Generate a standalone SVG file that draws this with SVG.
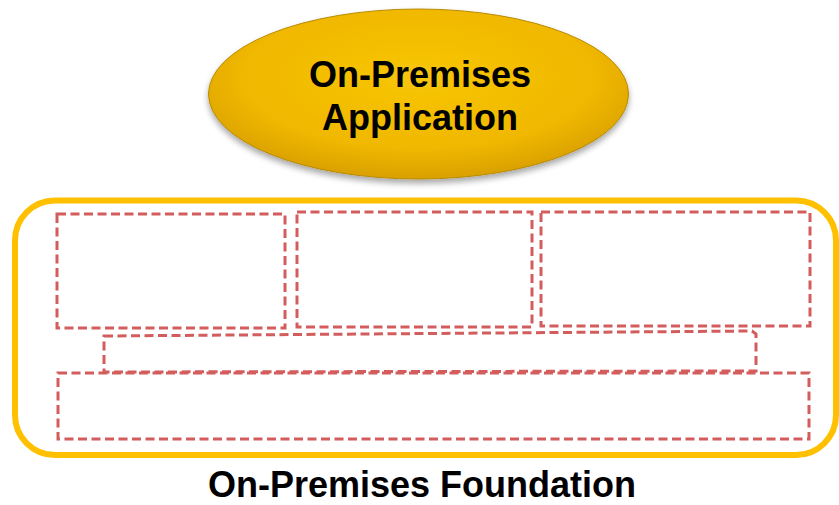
<svg xmlns="http://www.w3.org/2000/svg" width="839" height="505" viewBox="0 0 839 505">
<defs>
<radialGradient id="gold" cx="50%" cy="40%" r="60%">
<stop offset="0" stop-color="#f7c508"/>
<stop offset="0.7" stop-color="#f0b800"/>
<stop offset="1" stop-color="#d9a000"/>
</radialGradient>
<filter id="sh" x="-10%" y="-10%" width="120%" height="130%">
<feGaussianBlur in="SourceAlpha" stdDeviation="3"/>
<feOffset dx="0" dy="4" result="b"/>
<feComponentTransfer><feFuncA type="linear" slope="0.35"/></feComponentTransfer>
<feMerge><feMergeNode/><feMergeNode in="SourceGraphic"/></feMerge>
</filter>
</defs>
<style>
.dash{fill:none;stroke:#d35c5c;stroke-width:3;stroke-dasharray:9 4.5}
.t{font-family:"Liberation Sans",Arial,sans-serif;font-weight:bold;font-size:36px;fill:#000;text-anchor:middle}
</style>
<rect width="839" height="505" fill="#fff"/>
<g id="foundation">
<rect x="15" y="200.5" width="821" height="254.5" rx="40" ry="40" fill="none" stroke="#ffc000" stroke-width="6"/>
<rect class="dash" x="57" y="214" width="228" height="114"/>
<rect class="dash" x="297" y="212" width="235" height="115"/>
<rect class="dash" x="541" y="212" width="269" height="114"/>
<path class="dash" d="M104,336 L752,331 L756,334 L756,371 L104,372 Z"/>
<rect class="dash" x="58" y="373" width="751" height="66"/>
<text class="t" x="422" y="497" font-size="35">On-Premises Foundation</text>
</g>
<g id="application">
<ellipse cx="418.5" cy="94" rx="210" ry="85" fill="url(#gold)" stroke="#b88a00" stroke-width="1" filter="url(#sh)"/>
<text class="t" x="420" y="87">On-Premises</text>
<text class="t" x="420" y="130">Application</text>
</g>
<g id="connectors"/>
</svg>
